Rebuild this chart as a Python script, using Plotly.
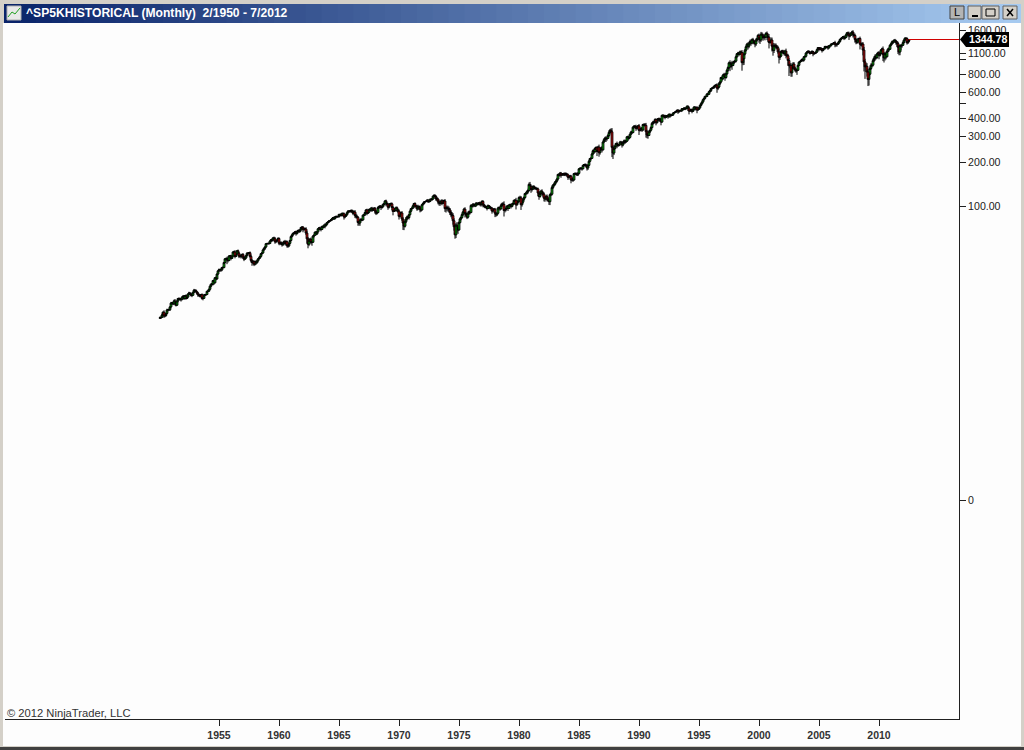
import math
import plotly.graph_objects as go

first_open = 17.05
closes = [
17.22,17.29,17.96,18.78,17.69,17.84,18.42,19.45,19.53,19.51,20.41,
21.66,21.80,21.40,22.43,21.52,20.96,22.40,23.28,23.26,22.94,22.88,23.77,
24.14,23.26,24.37,23.32,23.86,24.96,25.40,25.03,24.54,24.52,25.66,26.57,
26.38,25.90,25.29,24.62,24.54,24.14,24.75,23.32,23.35,24.54,24.76,24.81,
26.08,26.15,26.94,28.26,29.19,29.21,30.88,29.83,32.31,31.68,34.24,35.98,
36.63,36.76,36.58,37.96,37.91,41.03,43.52,43.18,43.67,42.34,45.51,45.48,
43.82,45.34,48.48,48.38,45.20,46.97,49.39,47.51,45.35,45.58,45.08,46.67,
44.72,43.26,44.11,45.74,47.43,47.37,47.91,45.22,42.42,41.06,41.72,39.99,
41.70,40.84,42.10,43.44,44.09,45.24,47.19,47.75,50.06,51.33,52.48,55.21,
55.42,55.41,55.44,57.59,58.68,58.47,60.51,59.60,56.88,57.52,58.28,59.89,
55.61,56.12,55.34,54.37,55.83,56.92,55.51,56.96,53.52,53.39,55.54,58.11,
61.78,63.44,65.06,65.31,66.56,64.64,66.76,68.07,66.73,68.62,71.32,71.55,
68.84,69.96,69.55,65.24,59.63,54.75,58.23,59.12,56.27,56.52,62.26,63.10,
66.20,64.29,66.57,69.80,70.80,69.37,69.13,72.50,71.70,74.01,73.23,75.02,
77.04,77.80,78.98,79.46,80.37,81.69,83.18,81.83,84.18,84.86,84.42,84.75,
87.56,87.43,86.16,89.11,88.42,84.12,85.25,87.17,89.96,92.42,91.61,92.43,
92.88,91.22,89.23,91.06,86.13,84.74,83.60,77.10,76.56,80.20,80.45,80.33,
86.61,86.78,90.20,94.01,89.08,90.64,94.75,93.64,96.71,93.90,94.00,96.47,
92.24,89.36,90.20,97.59,98.68,99.58,97.74,98.86,102.67,103.41,108.37,103.86,
103.01,98.13,101.51,103.69,103.46,97.71,91.83,95.51,93.12,97.24,93.81,92.06,
85.02,89.50,89.63,81.52,76.55,72.72,78.05,81.52,84.21,83.25,87.20,92.15,
95.88,96.75,100.31,103.95,99.63,99.70,95.58,99.03,98.34,94.23,93.99,102.09,
103.94,106.57,107.20,107.67,109.53,107.14,107.39,111.09,110.55,111.58,116.67,118.05,
116.03,111.68,111.52,106.97,104.95,104.26,108.22,104.25,108.43,108.29,95.96,97.55,
96.57,96.22,93.98,90.31,87.28,86.00,79.31,72.15,63.54,73.90,69.97,68.56,
76.98,81.59,83.36,87.30,91.15,95.19,88.75,86.88,83.87,89.04,91.24,90.19,
100.86,99.71,102.77,101.64,100.18,104.28,103.44,102.91,105.24,102.90,102.10,107.46,
102.03,99.82,98.42,98.44,96.12,100.48,98.85,96.77,96.53,92.34,94.83,95.10,
89.25,87.04,89.21,96.83,97.24,95.53,100.68,103.29,102.54,93.15,94.70,96.11,
99.93,96.28,101.59,101.76,99.08,102.91,103.81,109.32,109.32,101.82,106.16,107.94,
114.16,113.66,102.09,106.29,111.24,114.24,121.67,122.38,125.46,127.47,140.52,135.76,
129.55,131.27,136.00,132.81,132.59,131.21,130.92,122.79,116.18,121.89,126.35,122.55,
120.40,113.11,111.96,116.44,111.88,109.61,107.09,119.51,120.42,133.71,138.54,140.64,
145.30,148.06,152.96,164.42,162.39,167.64,162.56,164.40,166.07,163.55,166.40,164.93,
163.41,157.06,159.18,160.05,150.55,153.18,150.66,166.68,166.10,166.09,163.58,167.24,
179.63,181.18,180.66,179.83,189.55,191.85,190.92,188.63,182.08,189.82,202.17,211.28,
211.78,226.92,238.90,235.52,247.35,250.84,236.12,252.93,231.32,243.98,249.22,242.17,
274.08,284.20,291.70,288.36,290.10,304.00,318.66,329.80,321.83,251.79,230.30,247.08,
257.07,267.82,258.89,261.33,262.16,273.50,272.02,261.52,271.91,278.97,273.70,277.72,
297.47,288.86,294.87,309.64,320.52,317.98,346.08,351.45,349.15,340.36,345.99,353.40,
329.08,331.89,339.94,330.80,361.23,358.02,356.15,322.56,306.05,304.00,322.22,330.22,
343.93,367.07,375.22,375.34,389.83,371.16,387.81,395.43,387.86,392.45,375.22,417.09,
408.79,412.70,403.69,414.95,415.35,408.14,424.21,414.03,417.80,418.68,431.35,435.71,
438.78,443.38,451.67,440.19,450.19,450.53,448.13,463.56,458.93,467.83,461.79,466.45,
481.61,467.14,445.77,450.91,456.50,444.27,458.26,475.49,462.69,472.35,453.69,459.27,
470.42,487.39,500.71,514.71,533.40,544.75,562.06,561.88,584.41,581.50,605.37,615.93,
636.02,640.43,645.50,654.17,669.12,670.63,639.95,651.99,687.31,705.27,757.02,740.74,
786.16,790.82,757.12,801.34,848.28,885.14,954.31,899.47,947.28,914.62,955.40,970.43,
980.28,1049.34,1101.75,1111.75,1090.82,1133.84,1120.67,957.28,1017.01,1098.67,1163.63,1229.23,
1279.64,1238.33,1286.37,1335.18,1301.84,1372.71,1328.72,1320.41,1282.71,1362.93,1388.91,1469.25,
1394.46,1366.42,1498.58,1452.43,1420.60,1454.60,1430.83,1517.68,1436.51,1429.40,1314.95,1320.28,
1366.01,1239.94,1160.33,1249.46,1255.82,1224.38,1211.23,1133.58,1040.94,1059.78,1139.45,1148.08,
1130.20,1106.73,1147.39,1076.92,1067.14,989.82,911.62,916.07,815.28,885.76,936.31,879.82,
855.70,841.15,849.18,916.92,963.59,974.50,990.31,1008.01,995.97,1050.71,1058.20,1111.92,
1131.13,1144.94,1126.21,1107.30,1120.68,1140.84,1101.72,1104.24,1114.58,1130.20,1173.82,1211.92,
1181.27,1203.60,1180.59,1156.85,1191.50,1191.33,1234.18,1220.33,1228.81,1207.01,1249.48,1248.29,
1280.08,1280.66,1294.87,1310.61,1270.09,1270.20,1276.66,1303.82,1335.85,1377.94,1400.63,1418.30,
1438.24,1406.82,1420.86,1482.37,1530.62,1503.35,1455.27,1473.99,1526.75,1549.38,1481.14,1468.36,
1378.55,1330.63,1322.70,1385.59,1400.38,1280.00,1267.38,1282.83,1166.36,968.75,896.24,903.25,
825.88,735.09,797.87,872.81,919.14,919.32,987.48,1020.62,1057.08,1036.19,1095.63,1115.10,
1073.87,1104.49,1169.43,1186.69,1089.41,1030.71,1101.60,1049.33,1141.20,1183.26,1180.55,1257.64,
1286.12,1327.22,1325.83,1363.61,1345.20,1320.64,1292.28,1218.89,1131.42,1253.30,1246.96,1257.60,
1312.41,1365.68,1408.47,1397.91,1310.33,1362.16,1344.78]

# estimated upper / lower shadow of each month's bar, percent of price, one row per year
upper_wick_pct = [
2,1,2,1,3,2,1,2,1,2,1,
2,1,1,2,3,2,1,1,2,1,2,1,
1,2,1,2,1,1,2,1,2,1,1,2,
1,2,1,2,1,2,1,2,1,2,1,1,
1,2,1,1,1,2,1,2,1,2,1,1,
2,1,2,1,2,1,1,2,3,2,1,1,
2,1,1,2,3,1,1,2,2,2,3,1,
2,2,1,1,2,2,1,2,3,2,2,2,
1,2,1,1,1,1,1,1,1,1,1,1,
1,1,2,1,1,2,1,2,3,2,1,2,
2,2,2,3,1,2,3,2,2,3,2,1,
1,1,1,1,1,2,1,1,2,1,1,2,
2,2,1,3,4,3,3,2,3,2,1,1,
1,2,1,1,1,2,2,1,1,1,3,1,
1,1,1,1,1,1,1,2,1,1,1,1,
1,1,2,1,1,2,1,1,1,1,1,1,
2,2,3,2,3,3,3,2,3,2,3,2,
1,1,1,1,2,2,1,2,1,2,2,2,
2,2,1,2,2,2,2,1,1,2,1,2,
2,2,2,1,2,2,2,1,2,2,2,2,
3,2,2,3,3,4,2,3,2,2,1,1,
1,1,1,1,2,2,2,3,2,2,2,1,
1,1,1,1,1,2,1,1,2,1,1,2,
2,2,3,2,3,2,2,3,1,2,3,3,
3,4,3,3,3,4,4,4,5,3,5,4,
2,2,2,2,1,2,3,3,3,3,2,2,
2,2,2,1,2,2,2,2,1,2,3,2,
2,1,2,2,2,2,1,1,2,2,2,1,
2,1,1,2,2,2,3,2,3,5,3,3,
1,2,1,2,2,2,2,1,2,4,2,2,
2,3,3,2,2,2,1,2,2,3,3,4,
3,2,2,2,2,2,2,2,3,3,2,3,
2,3,3,2,3,3,4,2,3,3,2,2,
2,2,2,1,2,2,2,2,1,2,2,2,
2,2,2,2,2,2,3,1,2,2,2,2,
1,1,2,2,1,1,2,2,2,2,2,1,
2,2,2,3,2,2,2,2,4,3,2,3,
1,2,2,3,2,2,3,2,3,6,4,3,
2,1,3,2,1,2,2,2,2,2,2,2,
1,2,2,1,2,2,1,1,2,3,2,1,
3,2,2,2,1,2,2,4,3,3,2,1,
2,2,2,1,2,2,1,1,2,1,2,1,
2,2,2,1,1,2,1,1,1,1,1,1,
1,1,1,2,1,1,1,1,1,1,1,1,
1,1,2,1,1,2,1,1,1,1,2,1,
1,1,1,1,1,1,1,1,1,1,1,1,
1,1,2,2,1,2,3,2,2,2,1,2,
2,3,3,2,2,2,2,4,2,4,2,2,
2,2,1,2,2,2,2,4,4,3,2,2,
2,3,3,3,3,2,3,3,3,3,2,2,
3,3,3,3,4,3,3,2,3,5,5,4,
4,4,5,4,3,3,3,3,5,4,2,2,
2,3,2,4,2,3,4,3,4,4,3,3,
2,2,2,1,1,1,1,1,2,1,1,1,
1,1,1,2,1,2,1,1,1,1,1,1,
1,1,1,2,1,1,1,1,1,2,1,1,
1,1,1,1,3,2,2,1,1,1,1,1,
1,2,2,1,1,2,3,2,1,2,3,2,
3,2,3,2,1,3,2,3,3,5,5,5,
5,5,4,3,3,3,3,3,3,3,2,2,
3,2,1,2,4,4,2,3,2,2,3,1,
1,2,2,1,2,2,2,3,3,2,2,2,
2,1,1,1,2,2,1]
lower_wick_pct = [
1,2,1,2,3,2,2,1,2,1,2,
1,2,2,1,3,2,1,2,1,2,3,1,
2,2,1,2,1,1,1,2,2,3,1,1,
2,1,2,3,2,2,1,2,3,1,1,2,
1,1,1,1,1,1,2,3,1,2,1,1,
1,3,3,2,1,1,1,3,3,3,1,1,
3,1,1,2,3,1,1,2,3,2,3,2,
3,3,1,1,1,2,1,2,3,3,3,3,
2,3,1,1,1,1,1,1,1,1,2,1,
1,2,2,1,1,3,1,3,3,2,1,1,
3,3,2,3,2,1,3,3,3,3,2,1,
1,1,1,2,1,3,1,1,2,1,1,2,
4,1,2,3,5,5,3,2,3,5,1,2,
1,2,1,1,2,2,3,1,2,1,4,1,
1,1,1,1,1,1,1,2,1,1,2,1,
2,1,2,1,3,4,2,1,1,1,1,2,
2,2,3,1,4,3,2,5,4,4,2,2,
1,1,1,1,3,1,1,2,2,3,1,1,
4,3,2,1,2,2,4,2,1,2,1,4,
2,4,2,1,3,4,6,1,2,1,3,3,
5,2,3,3,7,6,2,2,2,2,3,1,
1,1,1,1,3,1,3,2,2,4,3,1,
1,1,1,1,1,2,2,1,1,2,1,1,
3,3,3,4,4,4,2,3,1,2,5,6,
4,5,4,4,4,5,6,6,6,5,6,6,
1,1,2,1,2,2,6,2,3,2,2,3,
1,2,2,2,2,1,2,2,1,3,3,1,
4,2,2,2,3,1,2,2,2,4,2,2,
6,3,2,1,2,3,1,2,3,9,3,3,
1,4,1,2,3,1,2,2,2,7,1,2,
2,3,8,3,2,2,1,2,2,3,1,5,
5,3,2,3,2,2,2,5,5,2,2,4,
4,5,3,2,4,2,5,5,2,2,2,2,
2,2,2,1,2,2,4,1,2,2,2,3,
3,4,2,2,5,2,3,1,2,2,2,2,
1,1,2,3,1,2,2,2,4,3,1,1,
2,1,1,3,2,2,7,1,6,3,2,4,
1,1,3,5,3,1,2,1,3,9,9,3,
1,1,4,2,2,1,2,4,2,2,3,1,
1,3,1,1,1,2,1,1,3,4,2,2,
7,2,1,3,1,2,2,9,5,5,1,2,
1,1,2,3,1,4,1,1,3,2,5,1,
3,1,3,1,1,3,1,3,1,1,1,1,
1,1,1,3,1,1,2,1,2,1,2,1,
1,4,5,1,2,3,1,1,3,2,5,1,
1,1,1,1,1,1,1,1,1,1,1,1,
2,1,1,2,1,1,7,3,2,2,1,3,
1,2,5,2,1,2,2,7,2,5,1,2,
1,2,1,2,3,1,2,12,4,5,2,2,
1,5,3,1,4,1,4,3,5,3,2,1,
6,6,3,4,5,3,5,1,5,7,9,2,
1,8,8,4,3,3,3,3,9,4,1,3,
3,3,4,5,2,8,15,4,6,6,2,3,
3,2,5,1,1,1,1,1,3,2,1,2,
1,1,2,2,1,2,4,2,1,1,1,1,
3,1,2,3,1,1,1,2,1,3,1,1,
1,1,1,1,4,3,3,1,1,1,1,1,
1,3,2,1,3,2,6,2,1,2,4,3,
5,4,3,1,1,8,2,3,8,14,17,8,
7,10,9,1,2,3,2,2,3,3,2,2,
6,2,1,1,10,7,4,4,1,1,3,1,
1,1,3,1,3,4,5,10,5,3,7,3,
1,1,1,2,3,2,1]

notable_lows = {"1953-09":22.7,"1955-09":40.0,"1957-10":38.98,"1960-09":52.5,"1960-10":52.2,"1962-05":55.4,
"1962-06":51.35,"1966-10":73.2,"1970-05":68.6,"1970-06":72.2,"1974-10":60.5,"1974-12":65.0,"1978-03":85.9,
"1980-03":94.2,"1982-03":107.0,"1982-08":101.4,"1984-07":147.0,"1987-10":216.0,"1987-12":223.0,"1990-10":294.5,
"1997-10":855.0,"1998-08":939.0,"1998-10":923.0,"1999-02":1212.0,"2000-03":1339.0,"2001-09":944.0,"2002-07":776.0,
"2002-10":768.0,"2003-02":815.0,"2003-03":789.0,"2008-10":840.0,"2008-11":741.0,"2009-02":735.0,"2009-03":667.0,
"2010-05":1040.0,"2010-07":1011.0,"2011-08":1101.0,"2011-09":1121.0,"2011-10":1075.0}
notable_highs = {"1961-12":72.6,"1968-11":109.4,"1973-01":120.2,"1980-11":141.9,"1987-08":337.0,"1987-10":328.0,
"1990-07":369.0,"2000-03":1553.0,"2000-09":1530.0,"2007-07":1556.0,"2007-10":1576.0,"2011-04":1371.0,
"2011-05":1370.0,"2012-04":1422.0}

year_ticks = [1955,1960,1965,1970,1975,1980,1985,1990,1995,2000,2005,2010]
price_ticks = [1600,1100,1000,800,600,500,400,300,200,100,0.97]
price_labels = ["1600.00","1100.00","","800.00","600.00","","400.00","300.00","200.00","100.00","0"]
last_price = closes[-1]
last_label = "1344.78"
title_text = "^SP5KHISTORICAL (Monthly)  2/1950 - 7/2012"
copyright_text = "© 2012 NinjaTrader, LLC"

n_bars = len(closes)
upper = (upper_wick_pct + [1] * n_bars)[:n_bars]
lower = (lower_wick_pct + [1] * n_bars)[:n_bars]
opens = [first_open] + closes[:-1]
stamps = [f"{1950+(i+1)//12}-{(i+1)%12+1:02d}" for i in range(n_bars)]
xs = [1950 + (i + 1) / 12 for i in range(n_bars)]
highs = [max(max(o, c) * (1 + u / 100), notable_highs.get(s, 0)) for o, c, s, u in zip(opens, closes, stamps, upper)]
lows = [min(min(o, c) * (1 - d / 100), notable_lows.get(s, 1e9)) for o, c, s, d in zip(opens, closes, stamps, lower)]

W, H = 1024, 750
L, R, T, B = 5, 959, 23, 719
px = lambda v: (v - L) / (R - L)
py = lambda v: 1 - (v - T) / (B - T)
xrange_ = [1955 - (219 - L) / 12, 1955 + (R - 219) / 12]
yrange_ = [-1.5097, 3.2520]

# Layers: plotly sizes candle bodies from the closest spacing on an axis, so every layer keeps
# bars at least 3 months apart; the bars with the largest bodies go on the top layer to stay visible.
by_body = sorted(range(n_bars), key=lambda i: -abs(math.log(closes[i] / opens[i])))
top_layer = []
for i in by_body:
    if abs(math.log(closes[i] / opens[i])) < 0.025:
        break
    if all(abs(i - j) >= 3 for j in top_layer):
        top_layer.append(i)
top_set = set(top_layer)
layers = [[i for i in range(k, n_bars, 3) if i not in top_set] for k in range(3)] + [sorted(top_layer)]

fig = go.Figure()
for k, idx in enumerate(layers):
    axis = "x" if k == 0 else f"x{k+1}"
    fig.add_trace(go.Candlestick(
        x=[xs[i] for i in idx], open=[opens[i] for i in idx], high=[highs[i] for i in idx],
        low=[lows[i] for i in idx], close=[closes[i] for i in idx], xaxis=axis, yaxis="y",
        increasing=dict(line=dict(color="#000000", width=1), fillcolor="#00e000"),
        decreasing=dict(line=dict(color="#000000", width=1), fillcolor="#ff0000"),
        whiskerwidth=0, showlegend=False))

shapes = []
def rect(x0, y0, x1, y1, fill, line=None, lw=0, layer="below"):
    shapes.append(dict(type="rect", xref="paper", yref="paper", x0=px(x0), x1=px(x1), y0=py(y0), y1=py(y1),
                       fillcolor=fill, line=dict(color=line or fill, width=lw), layer=layer))
def seg(x0, y0, x1, y1, color, lw=1, layer="above"):
    shapes.append(dict(type="line", xref="paper", yref="paper", x0=px(x0), x1=px(x1), y0=py(y0), y1=py(y1),
                       line=dict(color=color, width=lw), layer=layer))

# window frame
rect(0, 0, 1024, 750, "#d4d0c8")
rect(3, 23, 1021, 746, "#fdfdfd")
rect(0, 747, 1024, 750, "#404040")
# title bar gradient
n = 64
c0, c1 = (10, 36, 106), (166, 202, 240)
for i in range(n):
    t = i / (n - 1)
    col = "rgb(%d,%d,%d)" % tuple(round(a + (b - a) * t) for a, b in zip(c0, c1))
    rect(4 + 1016 * i / n, 4, 4 + 1016 * (i + 1) / n + 1, 23, col)
# icon
rect(7, 6, 21, 20, "#e8e8e8", "#b0b0b0", 1, "above")
seg(8, 17, 12, 12, "#20a020"); seg(12, 12, 15, 14, "#20a020"); seg(15, 14, 20, 8, "#20a020")
# window buttons
rect(950, 6, 964, 19, "#b4b4b4", "#404040", 1, "above")
for x0, x1 in [(968, 981), (982, 999), (1003, 1017)]:
    rect(x0, 6, x1, 19, "#d4d0c8", "#606060", 1, "above")
seg(972, 16, 978, 16, "#000000", 2)
rect(986, 9, 995, 16, "rgba(0,0,0,0)", "#000000", 1, "above")
seg(1007, 9, 1013, 16, "#000000", 1.5); seg(1013, 9, 1007, 16, "#000000", 1.5)
# last-price marker
shapes.append(dict(type="line", xref="x", yref="paper", x0=xs[-1], x1=xrange_[1], y0=py(39.5), y1=py(39.5),
                   line=dict(color="#d00000", width=1), layer="above"))
shapes.append(dict(type="path", xref="paper", yref="paper", fillcolor="#000000", line=dict(width=0), layer="above",
                   path=f"M {px(960)} {py(39.5)} L {px(966)} {py(32)} L {px(1009)} {py(32)} L {px(1009)} {py(47)} L {px(966)} {py(47)} Z"))

annotations = [
    dict(text=title_text, xref="paper", yref="paper", x=px(24), y=py(13), xanchor="left", yanchor="middle", showarrow=False,
         font=dict(family="Liberation Sans", size=12.1, color="#ffffff", weight="bold")),
    dict(text="L", xref="paper", yref="paper", x=px(957), y=py(12.5), xanchor="center", yanchor="middle", showarrow=False,
         font=dict(family="Liberation Sans", size=11, color="#000000")),
    dict(text=copyright_text, xref="paper", yref="paper", x=px(5), y=py(713), xanchor="left", yanchor="middle", showarrow=False,
         font=dict(family="Liberation Sans", size=11.2, color="#333333")),
    dict(text=last_label, xref="paper", yref="paper", x=px(987.5), y=py(39.5), xanchor="center", yanchor="middle", showarrow=False,
         font=dict(family="Liberation Sans", size=10.6, color="#ffffff", weight="bold")),
]

axis_common = dict(range=xrange_, fixedrange=True)
fig.update_layout(
    width=W, height=H, margin=dict(l=L, r=W - R, t=T, b=H - B), autosize=False,
    paper_bgcolor="#fdfdfd", plot_bgcolor="#fdfdfd", showlegend=False, boxmode="overlay", boxgap=0.15,
    xaxis=dict(**axis_common, tickmode="array", tickvals=year_ticks, ticktext=[str(y) for y in year_ticks],
               ticks="outside", ticklen=6, tickcolor="#202020", showgrid=False, zeroline=False, showline=True,
               linecolor="#202020", linewidth=1, rangeslider=dict(visible=False),
               tickfont=dict(family="Liberation Sans", size=10.5, color="#333333", weight="bold")),
    xaxis2=dict(**axis_common, overlaying="x", visible=False, rangeslider=dict(visible=False)),
    xaxis3=dict(**axis_common, overlaying="x", visible=False, rangeslider=dict(visible=False)),
    xaxis4=dict(**axis_common, overlaying="x", visible=False, rangeslider=dict(visible=False)),
    yaxis=dict(type="log", range=yrange_, side="right", fixedrange=True, tickmode="array", tickvals=price_ticks,
               ticktext=price_labels, ticks="outside", ticklen=6, tickcolor="#202020", showgrid=False, zeroline=False,
               showline=True, linecolor="#202020", linewidth=1,
               tickfont=dict(family="Liberation Sans", size=10.6, color="#222222")),
    shapes=shapes, annotations=annotations,
)
fig.write_html("out.html", post_script="document.body.style.margin='0';document.body.style.overflow='hidden';",
               config={"displayModeBar": False})
